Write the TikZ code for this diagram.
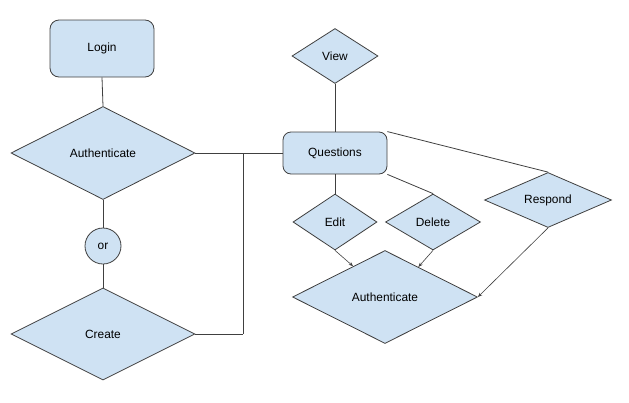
\documentclass[tikz,border=0pt]{standalone}
\usepackage{fontspec}
\setmainfont{Liberation Sans}
\usetikzlibrary{shapes.geometric,arrows.meta}
\definecolor{boxfill}{HTML}{CFE2F3}
\definecolor{edge}{HTML}{404040}
\begin{document}
\begin{tikzpicture}[x=1pt,y=-1pt,
  every node/.style={font=\fontsize{11.9}{14}\selectfont, text=black},
  rbox/.style={draw=edge, fill=boxfill, rounded corners=9pt, line width=0.8pt, inner sep=0pt},
  dia/.style={draw=edge, fill=boxfill, diamond, aspect=2, line width=0.8pt, inner sep=0pt},
  circ/.style={draw=edge, fill=boxfill, circle, line width=0.8pt, inner sep=0pt, minimum size=36pt},
  link/.style={draw=edge, line width=0.8pt},
  arr/.style={draw=edge, line width=0.6pt, -{Stealth[length=4.5pt,width=3.5pt]}}
]
\useasboundingbox (0,0) rectangle (629,402);
\node[rbox, minimum width=104pt, minimum height=57pt] (login) at (102,48.5) {Login};
\node[dia, minimum width=184pt, minimum height=93pt] (auth1) at (103,153) {Authenticate};
\node[circ] (or) at (103,246) {or};
\node[dia, minimum width=184pt, minimum height=92pt] (create) at (103,334) {Create};
\node[rbox, rounded corners=8pt, minimum width=104pt, minimum height=42pt] (q) at (335,153) {Questions};
\node[dia, minimum width=86pt, minimum height=55pt] (view) at (335,56) {View};
\node[dia, minimum width=84pt, minimum height=56pt] (edit) at (335,222) {Edit};
\node[dia, minimum width=95pt, minimum height=56pt] (del) at (433,222) {Delete};
\node[dia, minimum width=127pt, minimum height=55pt] (resp) at (548,200) {Respond};
\node[dia, minimum width=185pt, minimum height=93pt] (auth2) at (385,297) {Authenticate};
\coordinate (j1) at (243,153);
\coordinate (j2) at (243,334);
\draw[link] (login.south) -- (auth1.north);
\draw[link] (auth1.south) -- (or.north);
\draw[link] (or.south) -- (create.north);
\draw[link] (auth1.east) -- (q.west);
\draw[link] (j1) -- (j2);
\draw[link] (create.east) -- (j2);
\draw[link] (view.south) -- (q.north);
\draw[link] (q.south) -- (edit.north);
\draw[link] (q.south east) -- (del.north);
\draw[link] (q.north east) -- (resp.north);
\draw[arr] (edit.south) -- (auth2.136);
\draw[arr] (del.south) -- (auth2.42);
\draw[arr] (resp.south) -- (auth2.east);
\end{tikzpicture}
\end{document}
